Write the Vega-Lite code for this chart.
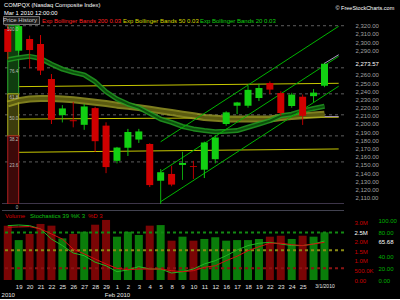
{
  "$schema": "https://vega.github.io/schema/vega-lite/v6.json",
  "background": "black",
  "padding": {"left": 1, "top": 1, "right": 4, "bottom": 2},
  "bounds": "flush",
  "spacing": 6,
  "datasets": {
    "bars": [
      {"i": 0, "o": 2316, "h": 2322, "l": 2279, "c": 2288, "dir": "down", "v": 2860000, "k": 91.6, "d": 89, "g": 2278.5, "y50": 2224.4},
      {"i": 1, "o": 2289.5, "h": 2321, "l": 2287, "c": 2319.5, "dir": "up", "v": 2100000, "k": 92.7, "d": 89.5, "g": 2281, "y50": 2228.5},
      {"i": 2, "o": 2303.8, "h": 2307.8, "l": 2268, "c": 2290.3, "dir": "down", "v": 2420000, "k": 91.6, "d": 90, "g": 2282.6, "y50": 2230.5},
      {"i": 3, "o": 2297.7, "h": 2308.6, "l": 2259.8, "c": 2265.2, "dir": "down", "v": 2950000, "k": 86, "d": 86, "g": 2280, "y50": 2231},
      {"i": 4, "o": 2254.9, "h": 2261, "l": 2200, "c": 2205.3, "dir": "down", "v": 2860000, "k": 69, "d": 77.6, "g": 2273, "y50": 2231},
      {"i": 5, "o": 2219, "h": 2223, "l": 2202, "c": 2210.8, "dir": "up", "v": 2190000, "k": 58, "d": 69, "g": 2267, "y50": 2230.5},
      {"i": 6, "o": 2204.6, "h": 2227, "l": 2196, "c": 2203.4, "dir": "down", "v": 2420000, "k": 45.5, "d": 52, "g": 2263, "y50": 2229.6},
      {"i": 7, "o": 2199, "h": 2224.5, "l": 2193, "c": 2221.4, "dir": "up", "v": 2540000, "k": 41, "d": 44, "g": 2260, "y50": 2228},
      {"i": 8, "o": 2219.4, "h": 2221, "l": 2166, "c": 2179, "dir": "down", "v": 2910000, "k": 30, "d": 35.4, "g": 2251.6, "y50": 2226.5},
      {"i": 9, "o": 2198, "h": 2202, "l": 2140, "c": 2147.4, "dir": "down", "v": 3160000, "k": 24, "d": 27, "g": 2239.4, "y50": 2225},
      {"i": 10, "o": 2155, "h": 2172, "l": 2152, "c": 2171.2, "dir": "up", "v": 2280000, "k": 14, "d": 19.7, "g": 2230.5, "y50": 2223},
      {"i": 11, "o": 2171, "h": 2194, "l": 2161, "c": 2190.1, "dir": "up", "v": 2540000, "k": 17, "d": 17.4, "g": 2224.4, "y50": 2221.5},
      {"i": 12, "o": 2181, "h": 2194, "l": 2177, "c": 2190.9, "dir": "up", "v": 2370000, "k": 22.5, "d": 18.5, "g": 2220, "y50": 2220},
      {"i": 13, "o": 2175.6, "h": 2176.5, "l": 2123, "c": 2125.4, "dir": "down", "v": 2860000, "k": 18.5, "d": 18.5, "g": 2213, "y50": 2218},
      {"i": 14, "o": 2130.7, "h": 2145, "l": 2100.2, "c": 2141.1, "dir": "up", "v": 2890000, "k": 18.5, "d": 18.5, "g": 2206, "y50": 2216},
      {"i": 15, "o": 2139, "h": 2149, "l": 2124, "c": 2126, "dir": "down", "v": 2070000, "k": 11.8, "d": 15.7, "g": 2202, "y50": 2214},
      {"i": 16, "o": 2150, "h": 2166, "l": 2132, "c": 2152.4, "dir": "up", "v": 2280000, "k": 14, "d": 14, "g": 2197, "y50": 2212},
      {"i": 17, "o": 2148.6, "h": 2155, "l": 2133, "c": 2147.6, "dir": "down", "v": 2070000, "k": 18.5, "d": 15.7, "g": 2194, "y50": 2210},
      {"i": 18, "o": 2144.2, "h": 2178.4, "l": 2134, "c": 2177.4, "dir": "up", "v": 2160000, "k": 27, "d": 21.4, "g": 2192, "y50": 2208},
      {"i": 19, "o": 2157, "h": 2186, "l": 2152, "c": 2183.5, "dir": "up", "v": 2250000, "k": 32.6, "d": 24, "g": 2190.6, "y50": 2207},
      {"i": 20, "o": 2200, "h": 2215.5, "l": 2198, "c": 2214.2, "dir": "up", "v": 2070000, "k": 41, "d": 32.6, "g": 2191, "y50": 2206},
      {"i": 21, "o": 2222.3, "h": 2227, "l": 2212, "c": 2226.3, "dir": "up", "v": 2100000, "k": 50.6, "d": 40, "g": 2192, "y50": 2206},
      {"i": 22, "o": 2222.3, "h": 2246.7, "l": 2220, "c": 2241.7, "dir": "up", "v": 2100000, "k": 58, "d": 49.4, "g": 2196, "y50": 2206},
      {"i": 23, "o": 2231.7, "h": 2249, "l": 2228, "c": 2243.9, "dir": "up", "v": 2160000, "k": 62, "d": 56, "g": 2200, "y50": 2206},
      {"i": 24, "o": 2250, "h": 2252, "l": 2236.6, "c": 2242, "dir": "down", "v": 2280000, "k": 63.5, "d": 62, "g": 2204, "y50": 2206},
      {"i": 25, "o": 2237.8, "h": 2240, "l": 2210, "c": 2213.4, "dir": "down", "v": 2330000, "k": 60.7, "d": 62, "g": 2210, "y50": 2208},
      {"i": 26, "o": 2222, "h": 2238, "l": 2220, "c": 2235.9, "dir": "up", "v": 2160000, "k": 58, "d": 59.5, "g": 2212, "y50": 2209},
      {"i": 27, "o": 2233.3, "h": 2236, "l": 2199, "c": 2210, "dir": "down", "v": 2330000, "k": 58, "d": 58, "g": 2216, "y50": 2210},
      {"i": 28, "o": 2234, "h": 2242.7, "l": 2227, "c": 2238.3, "dir": "up", "v": 2280000, "k": 60.7, "d": 60.7, "g": 2219, "y50": 2211},
      {"i": 29, "o": 2246.7, "h": 2275, "l": 2245, "c": 2273.57, "dir": "up", "v": 2510000, "k": 65.68, "d": 63.5, "g": 2221.6, "y50": 2212}
    ],
    "fib": [
      {"lvl": "100.0", "p": 2320},
      {"lvl": "76.4", "p": 2268.6},
      {"lvl": "61.8", "p": 2236.8},
      {"lvl": "50.0", "p": 2211.2},
      {"lvl": "38.2", "p": 2185.5},
      {"lvl": "23.6", "p": 2153.7},
      {"lvl": "0", "p": 2102.3}
    ],
    "zones": [
      {"zone": "100-61.8", "from": 0, "to": 1, "top": 2320, "bot": 2236.8},
      {"zone": "61.8-38.2", "from": 0, "to": 1, "top": 2236.8, "bot": 2185.5},
      {"zone": "38.2-0", "from": 0, "to": 1, "top": 2185.5, "bot": 2102.3}
    ],
    "trend": [
      {"id": "a", "i": 1, "p": 2245.6}, {"id": "a", "i": 30.3, "p": 2249.7},
      {"id": "b", "i": 1, "p": 2206}, {"id": "b", "i": 30.3, "p": 2208.3},
      {"id": "c", "i": 1, "p": 2165.4}, {"id": "c", "i": 30.3, "p": 2169.5}
    ],
    "chan": [
      {"id": "u", "i": 14, "p": 2178.3}, {"id": "u", "i": 30.3, "p": 2319.3},
      {"id": "m", "i": 14, "p": 2141.7}, {"id": "m", "i": 30.3, "p": 2282.7},
      {"id": "l", "i": 14, "p": 2105.1}, {"id": "l", "i": 30.3, "p": 2246.1}
    ],
    "segs": [
      {"id": "a", "i": 29, "p": 2209}, {"id": "a", "i": 30.3, "p": 2209},
      {"id": "b", "i": 29, "p": 2274}, {"id": "b", "i": 30.3, "p": 2284.6}
    ],
    "levels": [{"lvl": 80}, {"lvl": 50}, {"lvl": 20}]
  },
  "vconcat": [
    {
      "width": 342,
      "height": 180,
      "title": {"text": ["COMPQX (Nasdaq Composite Index)", "Mar 1 2010 12:00:00"], "anchor": "start", "frame": "group", "offset": 0, "dy": 11, "dx": 2, "fontSize": 5.8, "lineHeight": 8.5, "color": "#ffffff", "fontWeight": "normal", "font": "Liberation Sans"},
      "layer": [
        {
          "data": {"name": "fib"},
          "mark": {"type": "rule", "strokeWidth": 1, "clip": true},
          "encoding": {
            "y": {"field": "p", "type": "quantitative", "title": null, "scale": {"domain": [2102.3, 2322.1], "nice": false, "zero": false},
              "axis": {"orient": "right", "values": [2110, 2120, 2130, 2140, 2150, 2160, 2170, 2180, 2190, 2200, 2210, 2220, 2230, 2240, 2250, 2260, 2273.57, 2290, 2300, 2310, 2320],
                "tickCount": 100,
                "labelExpr": "format(datum.value, ',.2f')",
                "labelColor": {"condition": {"test": "datum.value == 2273.57", "value": "#ffffff"}, "value": "#a0a0a0"},
                "labelPadding": 11, "labelOverlap": false, "labelFlush": false, "labelAlign": "left", "labelBaseline": "middle"}},
            "color": {"condition": {"test": "datum.lvl == '0'", "value": "#7a6a92"}, "value": "#5e5e5e"},
            "strokeDash": {"condition": {"test": "datum.lvl == '0'", "value": [1, 0]}, "value": [3, 3]}
          }
        },
        {
          "data": {"name": "trend"},
          "mark": {"type": "line", "strokeWidth": 1, "color": "#c8c800", "clip": true},
          "encoding": {
            "x": {"field": "i", "type": "quantitative", "title": null, "axis": null, "scale": {"domain": [-0.07, 30.33], "nice": false, "zero": false}},
            "y": {"field": "p", "type": "quantitative", "title": null, "scale": {"domain": [2102.3, 2322.1], "nice": false, "zero": false}},
            "detail": {"field": "id"}
          }
        },
        {
          "data": {"name": "zones"},
          "mark": {"type": "rect", "strokeWidth": 1, "clip": true},
          "encoding": {
            "x": {"field": "from", "type": "quantitative", "title": null, "axis": null, "scale": {"domain": [-0.07, 30.33], "nice": false, "zero": false}},
            "x2": {"field": "to"},
            "y": {"field": "top", "type": "quantitative", "title": null, "scale": {"domain": [2102.3, 2322.1], "nice": false, "zero": false}},
            "y2": {"field": "bot"},
            "fill": {"condition": [{"test": "datum.zone == '100-61.8'", "value": "#0f3d0f"}, {"test": "datum.zone == '61.8-38.2'", "value": "#3d3d0c"}], "value": "#3d0909"},
            "stroke": {"condition": [{"test": "datum.zone == '100-61.8'", "value": "#2fae2f"}, {"test": "datum.zone == '61.8-38.2'", "value": "#b0b020"}], "value": "#b02020"}
          }
        },
        {
          "data": {"name": "bars"},
          "mark": {"type": "line", "strokeWidth": 7, "opacity": 0.75, "clip": true, "strokeJoin": "round"},
          "encoding": {
            "x": {"field": "i", "type": "quantitative", "title": null, "axis": null, "scale": {"domain": [-0.07, 30.33], "nice": false, "zero": false}},
            "y": {"field": "y50", "type": "quantitative", "title": null, "scale": {"domain": [2102.3, 2322.1], "nice": false, "zero": false}},
            "stroke": {"datum": "Exp Bollinger Bands 50 0.03", "type": "nominal", "scale": {"range": ["#a8a828"]},
              "legend": {"title": null, "orient": "none", "legendX": 122, "legendY": -6, "labelColor": "#d8d800"}}
          }
        },
        {
          "data": {"name": "bars"},
          "mark": {"type": "line", "strokeWidth": 3, "color": "#5a5a10", "clip": true, "strokeJoin": "round"},
          "encoding": {
            "x": {"field": "i", "type": "quantitative", "title": null, "axis": null, "scale": {"domain": [-0.07, 30.33], "nice": false, "zero": false}},
            "y": {"field": "y50", "type": "quantitative", "title": null, "scale": {"domain": [2102.3, 2322.1], "nice": false, "zero": false}}
          }
        },
        {
          "data": {"name": "bars"},
          "mark": {"type": "line", "strokeWidth": 5, "opacity": 0.85, "clip": true, "strokeJoin": "round"},
          "encoding": {
            "x": {"field": "i", "type": "quantitative", "title": null, "axis": null, "scale": {"domain": [-0.07, 30.33], "nice": false, "zero": false}},
            "y": {"field": "g", "type": "quantitative", "title": null, "scale": {"domain": [2102.3, 2322.1], "nice": false, "zero": false}},
            "stroke": {"datum": "Exp Bollinger Bands 20 0.03", "type": "nominal", "scale": {"range": ["#22a022"]},
              "legend": {"title": null, "orient": "none", "legendX": 199, "legendY": -6, "labelColor": "#10d010"}}
          }
        },
        {
          "data": {"name": "bars"},
          "mark": {"type": "line", "strokeWidth": 2, "color": "#0c500c", "clip": true, "strokeJoin": "round"},
          "encoding": {
            "x": {"field": "i", "type": "quantitative", "title": null, "axis": null, "scale": {"domain": [-0.07, 30.33], "nice": false, "zero": false}},
            "y": {"field": "g", "type": "quantitative", "title": null, "scale": {"domain": [2102.3, 2322.1], "nice": false, "zero": false}}
          }
        },
        {
          "data": {"name": "chan"},
          "mark": {"type": "line", "strokeWidth": 1, "color": "#00b400", "clip": true},
          "encoding": {
            "x": {"field": "i", "type": "quantitative", "title": null, "axis": null, "scale": {"domain": [-0.07, 30.33], "nice": false, "zero": false}},
            "y": {"field": "p", "type": "quantitative", "title": null, "scale": {"domain": [2102.3, 2322.1], "nice": false, "zero": false}},
            "detail": {"field": "id"}
          }
        },
        {
          "data": {"name": "bars"},
          "mark": {"type": "rule", "strokeWidth": 1, "clip": true},
          "encoding": {
            "x": {"field": "i", "type": "quantitative", "title": null, "axis": null, "scale": {"domain": [-0.07, 30.33], "nice": false, "zero": false}},
            "y": {"field": "l", "type": "quantitative", "title": null, "scale": {"domain": [2102.3, 2322.1], "nice": false, "zero": false}},
            "y2": {"field": "h"},
            "color": {"condition": {"test": "datum.dir == 'up'", "value": "#12d012"}, "value": "#d00000"},
            "strokeDash": {"datum": "Price History", "type": "nominal", "scale": {"range": [[1, 0]]},
              "legend": {"title": null, "orient": "none", "legendX": 1, "legendY": -8, "labelColor": "#c8c8c8", "strokeColor": "#707070", "fillColor": "#1c1c1c", "padding": 1}}
          }
        },
        {
          "data": {"name": "bars"},
          "mark": {"type": "bar", "size": 7, "clip": true},
          "encoding": {
            "x": {"field": "i", "type": "quantitative", "title": null, "axis": null, "scale": {"domain": [-0.07, 30.33], "nice": false, "zero": false}},
            "y": {"field": "o", "type": "quantitative", "title": null, "scale": {"domain": [2102.3, 2322.1], "nice": false, "zero": false}},
            "y2": {"field": "c"},
            "color": {"condition": {"test": "datum.dir == 'up'", "value": "#12d012"}, "value": "#d00000"}
          }
        },
        {
          "data": {"name": "fib"},
          "mark": {"type": "text", "align": "right", "baseline": "top", "dx": -0.5, "dy": 1, "fontSize": 4.5, "color": "#bdbdbd"},
          "encoding": {
            "x": {"datum": 1, "type": "quantitative", "title": null, "axis": null, "scale": {"domain": [-0.07, 30.33], "nice": false, "zero": false}},
            "y": {"field": "p", "type": "quantitative", "title": null, "scale": {"domain": [2102.3, 2322.1], "nice": false, "zero": false}},
            "text": {"field": "lvl"}
          }
        },
        {
          "data": {"name": "segs"},
          "mark": {"type": "line", "strokeWidth": 1, "clip": true},
          "encoding": {
            "x": {"field": "i", "type": "quantitative", "title": null, "axis": null, "scale": {"domain": [-0.07, 30.33], "nice": false, "zero": false}},
            "y": {"field": "p", "type": "quantitative", "title": null, "scale": {"domain": [2102.3, 2322.1], "nice": false, "zero": false}},
            "detail": {"field": "id"},
            "stroke": {"datum": "Exp Bollinger Bands 200 0.03", "type": "nominal", "scale": {"range": ["#b09ac8"]},
              "legend": {"title": null, "orient": "none", "legendX": 41, "legendY": -6, "labelColor": "#ff2020"}}
          }
        },
        {
          "data": {"values": []},
          "mark": {"type": "point"},
          "encoding": {
            "shape": {"datum": "© FreeStockCharts.com", "type": "nominal",
              "legend": {"title": null, "orient": "none", "legendX": 335, "legendY": -19, "labelColor": "#ffffff", "labelFontSize": 5.5}}
          }
        }
      ],
      "resolve": {"scale": {"stroke": "independent"}, "legend": {"stroke": "independent"}}
    },
    {
      "width": 342,
      "height": 70,
      "layer": [
        {
          "data": {"name": "bars"},
          "mark": {"type": "bar", "size": 8, "clip": true},
          "encoding": {
            "x": {"field": "i", "type": "quantitative", "title": null, "scale": {"domain": [-0.07, 30.33], "nice": false, "zero": false},
              "axis": {"orient": "bottom", "values": [0, 1, 2, 3, 4, 5, 6, 7, 8, 9, 10, 11, 12, 13, 14, 15, 16, 17, 18, 19, 20, 21, 22, 23, 24, 25, 26, 27, 28, 29],
                "tickCount": 100,
                "labelExpr": "datum.value == 0 ? ['', '2010'] : datum.value == 10 ? ['1', 'Feb 2010'] : datum.value == 29 ? '3/1/2010' : ['', '19', '20', '21', '22', '25', '26', '27', '28', '29', '1', '2', '3', '4', '5', '8', '9', '10', '11', '12', '16', '17', '18', '19', '22', '23', '24', '25', '', ''][datum.value]",
                "labelColor": "#e6e6e6",
                "labelFontSize": {"condition": {"test": "datum.value == 29", "value": 5}, "value": 6},
                "labelPadding": 3, "labelFlush": 4, "labelOverlap": false, "labelLineHeight": 8, "labelBound": false}},
            "y": {"field": "v", "type": "quantitative", "title": null, "scale": {"domain": [0, 3684000], "nice": false, "zero": false},
              "axis": {"orient": "right", "values": [0, 500000, 1000000, 1500000, 2000000, 2500000, 3000000],
                "tickCount": 100,
                "labelExpr": "datum.value == 0 ? '0.00' : datum.value < 1000000 ? format(datum.value / 1000, '.1f') + 'K' : format(datum.value / 1000000, '.1f') + 'M'",
                "labelColor": {"condition": {"test": "datum.value == 2500000", "value": "#ffffff"}, "value": "#c80000"},
                "labelPadding": 10, "labelOverlap": false, "labelFlush": false, "labelAlign": "left", "labelBaseline": "middle"}},
            "color": {"condition": {"test": "datum.dir == 'up'", "value": "#0a7d0a"}, "value": "#7a0505"},
            "strokeDash": {"datum": "Volume", "type": "nominal", "scale": {"range": [[1, 0]]},
              "legend": {"title": null, "orient": "none", "legendX": 4, "legendY": 3, "labelColor": "#d80000"}}
          }
        },
        {
          "layer": [
            {
              "data": {"name": "levels"},
              "mark": {"type": "rule", "strokeWidth": 2, "strokeDash": [3, 3], "clip": true},
              "encoding": {
                "y": {"field": "lvl", "type": "quantitative", "title": null, "scale": {"domain": [0, 118], "nice": false, "zero": false},
                  "axis": {"orient": "right", "offset": 24, "values": [0, 20, 40, 65.68, 80, 100], "tickCount": 100, "format": ".2f",
                    "labelColor": {"condition": {"test": "datum.value == 65.68", "value": "#ffffff"}, "value": "#00b000"},
                    "labelPadding": 10, "labelOverlap": false, "labelFlush": false, "labelAlign": "left", "labelBaseline": "middle"}},
                "color": {"condition": [{"test": "datum.lvl == 80", "value": "#138a13"}, {"test": "datum.lvl == 50", "value": "#8a8a14"}], "value": "#8a1414"}
              }
            },
            {
              "data": {"name": "levels"},
              "mark": {"type": "rule", "strokeWidth": 1, "color": "#4c4c5c", "clip": true},
              "encoding": {
                "y": {"datum": 118, "type": "quantitative", "title": null, "scale": {"domain": [0, 118], "nice": false, "zero": false}}
              }
            },
            {
              "data": {"name": "bars"},
              "mark": {"type": "line", "strokeWidth": 1, "clip": true},
              "encoding": {
                "x": {"field": "i", "type": "quantitative", "title": null, "scale": {"domain": [-0.07, 30.33], "nice": false, "zero": false}},
                "y": {"field": "k", "type": "quantitative", "title": null, "scale": {"domain": [0, 118], "nice": false, "zero": false}},
                "stroke": {"datum": "Stochastics 39 %K 3", "type": "nominal", "scale": {"range": ["#22b822"]},
                  "legend": {"title": null, "orient": "none", "legendX": 29, "legendY": 3, "labelColor": "#10c010"}}
              }
            },
            {
              "data": {"name": "bars"},
              "mark": {"type": "line", "strokeWidth": 1, "clip": true},
              "encoding": {
                "x": {"field": "i", "type": "quantitative", "title": null, "scale": {"domain": [-0.07, 30.33], "nice": false, "zero": false}},
                "y": {"field": "d", "type": "quantitative", "title": null, "scale": {"domain": [0, 118], "nice": false, "zero": false}},
                "stroke": {"datum": "%D 3", "type": "nominal", "scale": {"range": ["#d41010"]},
                  "legend": {"title": null, "orient": "none", "legendX": 87, "legendY": 3, "labelColor": "#d80000"}}
              }
            }
          ],
          "resolve": {"scale": {"stroke": "independent"}, "legend": {"stroke": "independent"}}
        }
      ],
      "resolve": {"scale": {"y": "independent", "stroke": "independent"}, "legend": {"stroke": "independent"}}
    }
  ],
  "resolve": {
    "scale": {"stroke": "independent", "strokeDash": "independent", "shape": "independent"},
    "legend": {"stroke": "independent", "strokeDash": "independent", "shape": "independent"}
  },
  "config": {
    "background": "black",
    "font": "Liberation Sans",
    "view": {"stroke": null},
    "axis": {"labelFont": "Liberation Sans", "labelFontSize": 6, "ticks": false, "domain": false, "grid": false, "labelOverlap": false},
    "legend": {"orient": "none", "labelFont": "Liberation Sans", "labelFontSize": 6, "symbolSize": 0, "symbolStrokeWidth": 0, "symbolOpacity": 0, "labelOffset": -7, "padding": 0, "labelLimit": 400}
  }
}
